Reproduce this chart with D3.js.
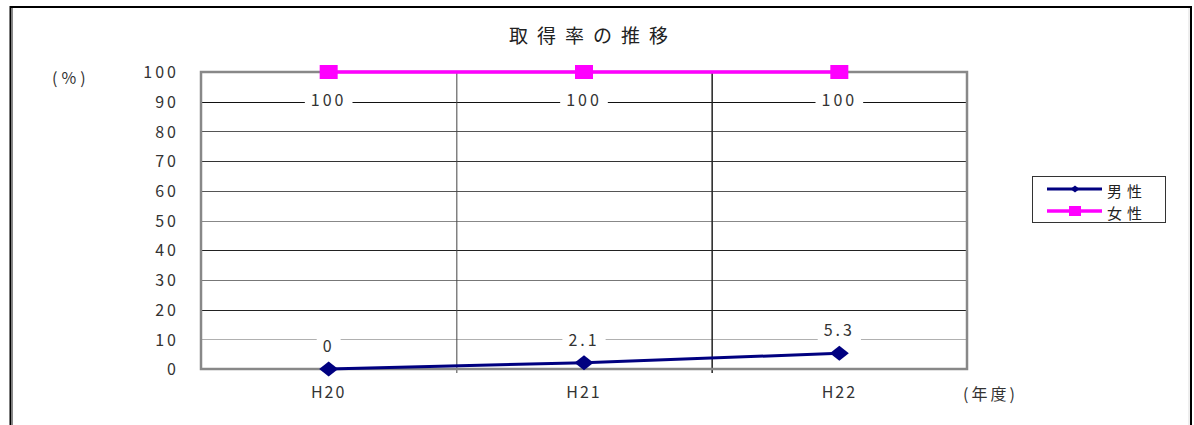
<!DOCTYPE html>
<html><head><meta charset="utf-8">
<script src="https://cdn.jsdelivr.net/npm/d3@7/dist/d3.min.js"></script>
<style>
html,body{margin:0;padding:0;background:#fff;}
text{font-family:"Noto Sans CJK JP","DejaVu Sans",sans-serif;}
</style></head>
<body><svg id="c" width="1194" height="425"></svg>
<script>
const categories = ["H20", "H21", "H22"];
const maleValues = [0, 2.1, 5.3];
const femaleValues = [100, 100, 100];
const maleLabels = ["0", "2.1", "5.3"];
const femaleLabels = ["100", "100", "100"];
const yTicks = [0, 10, 20, 30, 40, 50, 60, 70, 80, 90, 100];
const seriesNames = ["男性", "女性"];
const title = "取得率の推移";

const svg = d3.select("#c");
const numFont = '"DejaVu Sans",sans-serif';
// outer frame
svg.append("line").attr("x1",10).attr("x2",1192).attr("y1",7).attr("y2",7).attr("stroke","#000").attr("stroke-width",2);
svg.append("line").attr("x1",1191).attr("x2",1191).attr("y1",6).attr("y2",425).attr("stroke","#000").attr("stroke-width",2);
svg.append("line").attr("x1",1189).attr("x2",1189).attr("y1",8).attr("y2",425).attr("stroke","#ddd").attr("stroke-width",1);
svg.append("line").attr("x1",10.5).attr("x2",10.5).attr("y1",6).attr("y2",425).attr("stroke","#000").attr("stroke-width",2);
svg.append("line").attr("x1",12.5).attr("x2",12.5).attr("y1",8).attr("y2",425).attr("stroke","#888").attr("stroke-width",1);

const L = 201, R = 967, T = 72, B = 369;
const x = d3.scaleBand().domain(categories).range([L, R]);
const y = d3.scaleLinear().domain([0, 100]).range([B, T]);

// title
svg.append("text").attr("x", 509).attr("y", 43)
  .attr("font-size", 19).attr("letter-spacing", 9).attr("fill","#222").text(title);

// horizontal gridlines
const gridColors = {0:"#808080",10:"#b0b0b0",20:"#222",30:"#777",40:"#222",50:"#888",60:"#555",70:"#333",80:"#555",90:"#111",100:"#808080"};
svg.append("g").selectAll("line").data(yTicks.filter(d=>d>0&&d<100)).join("line")
  .attr("x1", L).attr("x2", R).attr("y1", d=>Math.round(y(d))+0.5).attr("y2", d=>Math.round(y(d))+0.5)
  .attr("stroke", d=>gridColors[d]).attr("stroke-width", 1.2);

// vertical gridlines at category boundaries
const bounds = categories.slice(1).map(c => x(c));
svg.append("g").selectAll("line").data(bounds).join("line")
  .attr("x1", d=>d+0.5).attr("x2", d=>d+0.5).attr("y1", T).attr("y2", B+4)
  .attr("stroke", (d,i)=> i===0 ? "#444" : "#222").attr("stroke-width", (d,i)=> i===0?1:1.5);

// plot border
svg.append("rect").attr("x", L).attr("y", T).attr("width", R-L).attr("height", B-T)
  .attr("fill","none").attr("stroke","#888").attr("stroke-width",2.5);

// y axis labels
const yAxis = d3.axisLeft(y).tickValues(yTicks).tickSize(0).tickPadding(22);
const ya = svg.append("g").attr("transform", `translate(${L},0)`).call(yAxis);
ya.select(".domain").remove();
ya.selectAll("text").attr("font-size", 16).attr("letter-spacing", 3).attr("fill","#333")
  .attr("font-family",numFont).attr("dy","0.36em");

// x axis labels
const xAxis = d3.axisBottom(x).tickSize(0).tickPadding(18);
const xa = svg.append("g").attr("transform", `translate(0,${B})`).call(xAxis);
xa.select(".domain").remove();
xa.selectAll("text").attr("font-size", 16).attr("letter-spacing", 2).attr("fill","#333")
  .attr("font-family",numFont);

// unit labels
svg.append("text").attr("x", 52).attr("y", 84).attr("font-size", 16).attr("letter-spacing", 4)
  .attr("font-family",numFont).attr("fill","#333").text("(%)");
svg.append("text").attr("x", 963).attr("y", 400).attr("font-size", 16).attr("letter-spacing", 3).attr("fill","#333").text("(年度)");

const cx = c => x(c) + x.bandwidth()/2;

// female line
const line = d3.line().x((d,i)=>cx(categories[i])).y(d=>y(d));
svg.append("path").datum(femaleValues).attr("d", line).attr("fill","none").attr("stroke","#ff00ff").attr("stroke-width",3.5);
// male line
svg.append("path").datum(maleValues).attr("d", line).attr("fill","none").attr("stroke","#000080").attr("stroke-width",3);

// markers
svg.append("g").selectAll("rect").data(femaleValues).join("rect")
  .attr("x",(d,i)=>cx(categories[i])-9).attr("y",d=>y(d)-7).attr("width",18).attr("height",14).attr("fill","#ff00ff");
const diamond = (w,h) => `M0,${-h/2}L${w/2},0L0,${h/2}L${-w/2},0Z`;
svg.append("g").selectAll("path").data(maleValues).join("path")
  .attr("d", diamond(19,15))
  .attr("transform",(d,i)=>`translate(${cx(categories[i])},${y(d)})`).attr("fill","#000080");

// data labels
function labels(vals, texts, dy){
  const g = svg.append("g");
  vals.forEach((v,i)=>{
    const t = g.append("text").attr("x", cx(categories[i])).attr("y", y(v)+dy)
      .attr("text-anchor","middle").attr("dominant-baseline","central")
      .attr("font-size",16).attr("letter-spacing",3).attr("fill","#333")
      .attr("font-family",numFont).text(texts[i]);
    const bb = t.node().getBBox();
    g.insert("rect","text").attr("x",bb.x-6).attr("y",bb.y-1).attr("width",bb.width+12).attr("height",bb.height+2).attr("fill","#fff");
  });
}
labels(femaleValues, femaleLabels, 27);
labels(maleValues, maleLabels, -24);

// legend
const lg = svg.append("g");
lg.append("rect").attr("x",1032.5).attr("y",176.5).attr("width",133).attr("height",46).attr("fill","#fff").attr("stroke","#333").attr("stroke-width",1);
const colors = ["#000080","#ff00ff"];
seriesNames.forEach((n,i)=>{
  const yy = 189 + i*22;
  lg.append("line").attr("x1",1047).attr("x2",1102).attr("y1",yy).attr("y2",yy).attr("stroke",colors[i]).attr("stroke-width",i?3.5:3);
  if(i===0){
    lg.append("path").attr("d", diamond(9,7)).attr("transform",`translate(1075,${yy})`).attr("fill",colors[i]);
  } else {
    lg.append("rect").attr("x",1069).attr("y",yy-5).attr("width",12).attr("height",10).attr("fill",colors[i]);
  }
  lg.append("text").attr("x",1107).attr("y",yy+1).attr("dominant-baseline","central").attr("font-size",15).attr("letter-spacing",5).attr("fill","#222").text(n);
});
</script></body></html>
